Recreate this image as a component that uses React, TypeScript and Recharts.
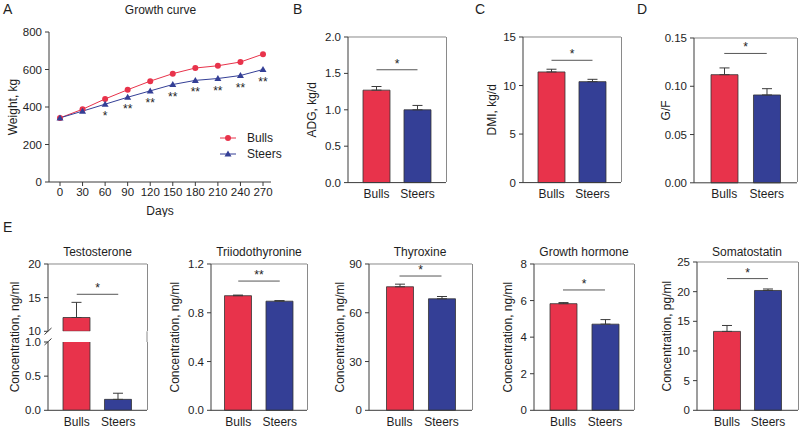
import React from 'react';
import {
  LineChart, Line, BarChart, Bar, Cell, XAxis, YAxis, ErrorBar,
  ReferenceLine, Legend, LabelList,
} from 'recharts';

// ---------- data ----------
const days = [0, 30, 60, 90, 120, 150, 180, 210, 240, 270];
const bullsWeight = [342, 388, 443, 492, 538, 578, 608, 620, 640, 682];
const steersWeight = [342, 378, 415, 452, 486, 520, 542, 552, 568, 600];
const weightSig = ['', '', '*', '**', '**', '**', '**', '**', '**', '**'];
const weightTicks = [0, 200, 400, 600, 800];

const groups = ['Bulls', 'Steers'];
const adgMean = [1.27, 1.0];
const adgSem = [0.05, 0.06];
const dmiMean = [11.4, 10.4];
const dmiSem = [0.28, 0.24];
const gfMean = [0.112, 0.091];
const gfSem = [0.007, 0.0065];
const testoMean = [12.05, 0.16];
const testoSem = [2.25, 0.09];
const t3Mean = [0.94, 0.895];
const t3Sem = [0.005, 0.005];
const t4Mean = [76, 68.6];
const t4Sem = [1.6, 1.4];
const ghMean = [5.83, 4.71];
const ghSem = [0.06, 0.25];
const ssMean = [13.3, 20.2];
const ssSem = [1.0, 0.25];

// significance bar heights (data units) and marks
const adgSig = 1.55;
const dmiSig = 12.6;
const gfSig = 0.134;
const testoSig = 15.5;
const t3Sig = 1.06;
const t4Sig = 82.6;
const ghSig = 6.58;
const ssSig = 22.2;

// ---------- style ----------
const FONT = 'Arial, "Liberation Sans", Helvetica, sans-serif';
const RED = '#E8334B';
const BLUE = '#343F96';
const AXIS = '#3a3a3a';
const FRAME = '#8a8a8a';
const TXT = '#1e1e1e';

const mkRows = (mean: number[], sem: number[]) =>
  groups.map((g, i) => ({ group: g, value: mean[i], err: [0, sem[i]] }));

const fmt0 = (v: number) => String(v);
const fmt1 = (v: number) => v.toFixed(1);
const fmt2 = (v: number) => v.toFixed(2);

const yLabelRenderer = (text: string, dxFromAxis: number) => (props: any) => {
  const vb = props.viewBox || {};
  const ax = (vb.x || 0) + (vb.width || 0);
  const cx = ax - dxFromAxis;
  const cy = (vb.y || 0) + (vb.height || 0) / 2;
  return (
    <text
      x={cx}
      y={cy}
      transform={`rotate(-90 ${cx} ${cy})`}
      textAnchor="middle"
      dominantBaseline="central"
      fontSize={12}
      fontFamily={FONT}
      fill={TXT}
    >
      {text}
    </text>
  );
};

type PanelProps = {
  rows: any[];
  domain: [number, number];
  ticks: number[];
  fmt: (v: number) => string;
  x0: number;
  x1: number;
  y0: number;
  y1: number;
  labelX: number;
  yLabel?: string;
  pad: number;
  sigY?: number;
  sigText?: string;
  showX?: boolean;
  topFrame?: boolean;
  overflow?: boolean;
};

function BarPanel(p: PanelProps) {
  const showX = p.showX !== false;
  const chartLeft = Math.floor(p.labelX - 9);
  const mt = 10;
  const mr = 4;
  const mb = showX ? 0 : 8;
  const xh = showX ? 26 : 0;
  const yw = p.x0 - chartLeft;
  const width = yw + (p.x1 - p.x0) + mr;
  const height = mt + (p.y1 - p.y0) + xh + mb;
  return (
    <>
      <div style={{ position: 'absolute', left: chartLeft, top: p.y0 - mt }}>
        <BarChart
          width={width}
          height={height}
          data={p.rows}
          margin={{ top: mt, right: mr, bottom: mb, left: 0 }}
          barSize={27}
        >
          <XAxis
            dataKey="group"
            type="category"
            hide={!showX}
            height={xh}
            padding={{ left: p.pad, right: p.pad }}
            tickLine={false}
            tickSize={5}
            tickMargin={2}
            interval={0}
            axisLine={{ stroke: AXIS }}
            tick={{ fontSize: 12, fill: TXT, fontFamily: FONT }}
          />
          <YAxis
            type="number"
            width={yw}
            domain={p.domain}
            ticks={p.ticks}
            interval={0}
            allowDataOverflow={!!p.overflow}
            tickFormatter={p.fmt}
            tickSize={4}
            tickMargin={3}
            axisLine={{ stroke: AXIS }}
            tickLine={{ stroke: AXIS }}
            tick={{ fontSize: 11.5, fill: TXT, fontFamily: FONT }}
            label={p.yLabel ? yLabelRenderer(p.yLabel, p.x0 - p.labelX) : undefined}
          />
          {p.topFrame !== false && (
            <ReferenceLine y={p.domain[1]} stroke={FRAME} strokeWidth={1} />
          )}
          <Bar dataKey="value" isAnimationActive={false} stroke="#333" strokeWidth={0.8}>
            {p.rows.map((r, i) => (
              <Cell key={r.group} fill={i === 0 ? RED : BLUE} />
            ))}
            <ErrorBar dataKey="err" direction="y" width={5} stroke={AXIS} strokeWidth={1} />
          </Bar>
          {p.sigY !== undefined && (
            <ReferenceLine
              segment={[{ x: groups[0], y: p.sigY }, { x: groups[1], y: p.sigY }]}
              stroke="#555"
              strokeWidth={1}
              label={{
                value: p.sigText,
                position: 'top',
                offset: 2,
                fontSize: 12,
                fill: TXT,
                fontFamily: FONT,
              }}
            />
          )}
        </BarChart>
      </div>
      {/* right side of the plot frame */}
      <div
        style={{
          position: 'absolute',
          left: p.x1 - 0.5,
          top: p.y0,
          width: 1,
          height: p.y1 - p.y0,
          background: FRAME,
        }}
      />
    </>
  );
}

const lineRows = days.map((d, i) => ({
  day: d,
  bulls: bullsWeight[i],
  steers: steersWeight[i],
  sig: weightSig[i],
}));

const TriangleDot = (props: any) => {
  const { cx, cy, index } = props;
  if (cx == null || cy == null) return <g key={`t-${index}`} />;
  return (
    <path
      key={`t-${index}`}
      d={`M${cx},${cy - 3.5} L${cx + 3.5},${cy + 2.6} L${cx - 3.5},${cy + 2.6} Z`}
      fill={BLUE}
    />
  );
};

const StarLabel = (props: any) => {
  const { x, y, value, index } = props;
  if (!value) return null;
  return (
    <text
      key={`s-${index}`}
      x={x}
      y={y + 16}
      textAnchor="middle"
      fontSize={12}
      fontFamily={FONT}
      fill={TXT}
    >
      {value}
    </text>
  );
};

const LegendContent = (props: any) => {
  const payload = props.payload || [];
  return (
    <div style={{ fontFamily: FONT, fontSize: 12, color: TXT }}>
      {payload.map((e: any, i: number) => (
        <div key={e.value} style={{ display: 'flex', alignItems: 'center', height: 16 }}>
          <svg width={27} height={10} style={{ display: 'block' }}>
            <line x1={0} y1={5} x2={16} y2={5} stroke={e.color} strokeWidth={1} />
            {i === 0 ? (
              <circle cx={8} cy={5} r={3} fill={e.color} />
            ) : (
              <path d="M8,1.5 L11.5,7.6 L4.5,7.6 Z" fill={e.color} />
            )}
          </svg>
          <span>{e.value}</span>
        </div>
      ))}
    </div>
  );
};

function GrowthPanel() {
  const x0 = 49;
  const x1 = 271;
  const y0 = 32.3;
  const y1 = 182.3;
  const chartLeft = 4;
  const mt = 10;
  const xh = 33;
  const yw = x0 - chartLeft;
  return (
    <div style={{ position: 'absolute', left: chartLeft, top: y0 - mt }}>
      <LineChart
        width={yw + (x1 - x0) + 6}
        height={mt + (y1 - y0) + xh + 2}
        data={lineRows}
        margin={{ top: mt, right: 6, bottom: 2, left: 0 }}
      >
        <XAxis
          dataKey="day"
          type="number"
          domain={[0, 270]}
          ticks={days}
          interval={0}
          padding={{ left: 11, right: 8 }}
          height={xh}
          tickSize={4}
          tickMargin={2}
          axisLine={{ stroke: AXIS }}
          tickLine={{ stroke: AXIS }}
          tick={{ fontSize: 11.5, fill: TXT, fontFamily: FONT }}
          label={{
            value: 'Days',
            position: 'insideBottom',
            offset: 0,
            fontSize: 12,
            fill: TXT,
            fontFamily: FONT,
          }}
        />
        <YAxis
          type="number"
          width={yw}
          domain={[0, 800]}
          ticks={weightTicks}
          interval={0}
          tickSize={4}
          tickMargin={3}
          axisLine={{ stroke: AXIS }}
          tickLine={{ stroke: AXIS }}
          tick={{ fontSize: 11.5, fill: TXT, fontFamily: FONT }}
          label={yLabelRenderer('Weight, kg', x0 - 13)}
        />
        <Legend
          layout="vertical"
          align="center"
          verticalAlign="middle"
          content={LegendContent}
          wrapperStyle={{ left: 216, top: 108, width: 70 }}
        />
        <Line
          dataKey="bulls"
          name="Bulls"
          stroke={RED}
          strokeWidth={1}
          dot={{ r: 3, fill: RED, stroke: RED, strokeWidth: 0 }}
          isAnimationActive={false}
        />
        <Line
          dataKey="steers"
          name="Steers"
          stroke={BLUE}
          strokeWidth={1}
          dot={TriangleDot}
          isAnimationActive={false}
        >
          <LabelList dataKey="sig" content={StarLabel} />
        </Line>
      </LineChart>
    </div>
  );
}

const testoUpperRows = groups.map((g, i) => ({
  group: g,
  value: testoMean[i] >= 10 ? testoMean[i] : null,
  err: testoMean[i] >= 10 ? [0, testoSem[i]] : null,
}));
const testoLowerRows = mkRows(testoMean, testoSem);

const Txt = (p: any) => (
  <text fontFamily={FONT} fill={TXT} {...p} />
);

export default function App() {
  return (
    <div
      style={{
        position: 'absolute',
        left: 0,
        top: 0,
        width: 800,
        height: 429,
        background: '#fff',
        overflow: 'hidden',
      }}
    >
      <GrowthPanel />
      <BarPanel rows={mkRows(adgMean, adgSem)} domain={[0, 2]} ticks={[0, 0.5, 1, 1.5, 2]} fmt={fmt1}
        x0={348} x1={446} y0={36.7} y1={182.3} labelX={312} yLabel="ADG, kg/d" pad={8}
        sigY={adgSig} sigText="*" />
      <BarPanel rows={mkRows(dmiMean, dmiSem)} domain={[0, 15]} ticks={[0, 5, 10, 15]} fmt={fmt0}
        x0={523} x1={621} y0={36.7} y1={182.3} labelX={492} yLabel="DMI, kg/d" pad={8}
        sigY={dmiSig} sigText="*" />
      <BarPanel rows={mkRows(gfMean, gfSem)} domain={[0, 0.15]} ticks={[0, 0.05, 0.1, 0.15]} fmt={fmt2}
        x0={694} x1={797} y0={37.5} y1={182.3} labelX={666} yLabel="G/F" pad={9}
        sigY={gfSig} sigText="*" />

      {/* Testosterone, broken axis */}
      <BarPanel rows={testoUpperRows} domain={[10, 20]} ticks={[10, 15, 20]} fmt={fmt0}
        x0={48} x1={147} y0={264} y1={331.3} labelX={15} pad={8}
        sigY={testoSig} sigText="*" showX={false} overflow />
      <BarPanel rows={testoLowerRows} domain={[0, 1]} ticks={[0, 0.5, 1]} fmt={fmt1}
        x0={48} x1={147} y0={342} y1={410.3} labelX={15} pad={8}
        topFrame={false} overflow />

      <BarPanel rows={mkRows(t3Mean, t3Sem)} domain={[0, 1.2]} ticks={[0, 0.4, 0.8, 1.2]} fmt={fmt1}
        x0={211} x1={307} y0={264} y1={410.3} labelX={175} yLabel="Concentration, ng/ml" pad={6.5}
        sigY={t3Sig} sigText="**" />
      <BarPanel rows={mkRows(t4Mean, t4Sem)} domain={[0, 90]} ticks={[0, 30, 60, 90]} fmt={fmt0}
        x0={369} x1={472} y0={264} y1={410.3} labelX={340} yLabel="Concentration, ng/ml" pad={9.5}
        sigY={t4Sig} sigText="*" />
      <BarPanel rows={mkRows(ghMean, ghSem)} domain={[0, 8]} ticks={[0, 2, 4, 6, 8]} fmt={fmt0}
        x0={534} x1={634} y0={264} y1={410.3} labelX={508} yLabel="Concentration, ng/ml" pad={8}
        sigY={ghSig} sigText="*" />
      <BarPanel rows={mkRows(ssMean, ssSem)} domain={[0, 25]} ticks={[0, 5, 10, 15, 20, 25]} fmt={fmt0}
        x0={697} x1={798} y0={262} y1={410.3} labelX={667} yLabel="Concentration, pg/ml" pad={9.5}
        sigY={ssSig} sigText="*" />

      <svg
        width={800}
        height={429}
        style={{ position: 'absolute', left: 0, top: 0, pointerEvents: 'none' }}
      >
        <Txt x={3} y={14} fontSize={14}>A</Txt>
        <Txt x={293} y={14} fontSize={14}>B</Txt>
        <Txt x={475} y={14} fontSize={14}>C</Txt>
        <Txt x={637} y={14} fontSize={14}>D</Txt>
        <Txt x={3} y={232} fontSize={14}>E</Txt>

        <Txt x={160.5} y={13.5} fontSize={12} textAnchor="middle">Growth curve</Txt>
        <Txt x={97.5} y={256} fontSize={12} textAnchor="middle">Testosterone</Txt>
        <Txt x={259} y={256} fontSize={12} textAnchor="middle">Triiodothyronine</Txt>
        <Txt x={420} y={256} fontSize={12} textAnchor="middle">Thyroxine</Txt>
        <Txt x={584} y={256} fontSize={12} textAnchor="middle">Growth hormone</Txt>
        <Txt x={747} y={256} fontSize={12} textAnchor="middle">Somatostatin</Txt>

        <Txt
          x={15}
          y={337}
          fontSize={12}
          textAnchor="middle"
          dominantBaseline="central"
          transform="rotate(-90 15 337)"
        >
          Concentration, ng/ml
        </Txt>

        {/* axis break marks */}
        <line x1={44.5} y1={334.5} x2={51.5} y2={328} stroke={AXIS} strokeWidth={1} />
        <line x1={44.5} y1={345} x2={51.5} y2={338.5} stroke={AXIS} strokeWidth={1} />
        {/* right frame continuing across the break */}
        <line x1={147} y1={331.3} x2={147} y2={342} stroke={FRAME} strokeWidth={1} />
      </svg>
    </div>
  );
}
